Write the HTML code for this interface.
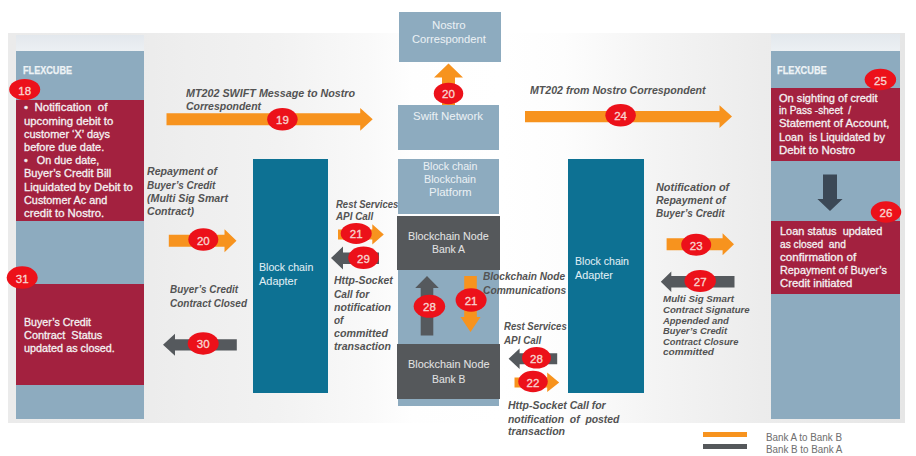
<!DOCTYPE html><html><head><meta charset="utf-8"><style>
body{margin:0;width:916px;height:456px;overflow:hidden;background:#fff;position:relative;font-family:"Liberation Sans",sans-serif;}
.r{position:absolute}
.t{position:absolute;white-space:pre;transform-origin:0 0;line-height:1;}
</style></head><body>
<div class="r" style="left:8px;top:33px;width:897px;height:390px;background:linear-gradient(to right,#ebebeb 0%,#eaeaea 12%,#eeeeee 20%,#f2f2f2 30%,#f9f9f9 40%,#fefefe 45%,#ffffff 55%,#fdfdfd 62%,#f4f4f4 72%,#ececec 84%,#e6e6e6 100%);"></div>
<div class="r" style="left:16px;top:35px;width:128px;height:16px;background:linear-gradient(#e3e8ed,#ecf0f3)"></div>
<div class="r" style="left:771px;top:34px;width:129px;height:17px;background:linear-gradient(#e3e8ed,#ecf0f3)"></div>
<div class="r" style="left:16px;top:51px;width:128px;height:368px;background:#8dabbf"></div>
<div class="r" style="left:16px;top:100px;width:128px;height:121px;background:#a3213f"></div>
<div class="r" style="left:16px;top:284px;width:128px;height:101px;background:#a3213f"></div>
<div class="r" style="left:771px;top:51px;width:129px;height:368px;background:#8dabbf"></div>
<div class="r" style="left:771px;top:88px;width:129px;height:73px;background:#a3213f"></div>
<div class="r" style="left:771px;top:220.5px;width:129px;height:73.5px;background:#a3213f"></div>
<div class="r" style="left:253px;top:159px;width:75px;height:234px;background:#0d7193"></div>
<div class="r" style="left:568px;top:159px;width:76px;height:234px;background:#0d7193"></div>
<div class="r" style="left:399px;top:12px;width:102px;height:50px;background:#8dabbf"></div>
<div class="r" style="left:398px;top:105px;width:101px;height:45px;background:#8dabbf"></div>
<div class="r" style="left:398px;top:159px;width:101px;height:55px;background:#8dabbf"></div>
<div class="r" style="left:397px;top:216px;width:103px;height:54px;background:#55585b"></div>
<div class="r" style="left:398px;top:270px;width:101px;height:74px;background:#8dabbf"></div>
<div class="r" style="left:397px;top:344px;width:103px;height:55px;background:#55585b"></div>
<div class="r" style="left:398px;top:399px;width:101px;height:7px;background:#8dabbf"></div>
<div class="r" style="left:703px;top:432px;width:44px;height:5px;background:#f7931e"></div>
<div class="r" style="left:703px;top:444px;width:44px;height:5px;background:#55585b"></div>
<svg class="r" style="left:0;top:0" width="916" height="456" viewBox="0 0 916 456"><polygon fill="#f7931e" points="166.5,113.3 360.2,113.3 360.2,107.9 372.7,119.3 360.2,130.7 360.2,125.3 166.5,125.3"/><polygon fill="#f7931e" points="525.0,110.9 719.5,110.9 719.5,105.2 732.0,116.6 719.5,128.0 719.5,122.2 525.0,122.2"/><polygon fill="#f7931e" points="168.8,234.8 224.5,234.8 224.5,229.3 236.5,240.8 224.5,252.3 224.5,246.8 168.8,246.8"/><polygon fill="#55595d" points="236.8,339.2 175.0,339.2 175.0,333.8 163.0,344.8 175.0,355.8 175.0,350.4 236.8,350.4"/><polygon fill="#f7931e" points="338.0,229.4 372.3,229.4 372.3,224.2 383.8,234.4 372.3,244.6 372.3,239.4 338.0,239.4"/><polygon fill="#55595d" points="379.0,252.4 343.0,252.4 343.0,246.6 331.0,258.1 343.0,269.6 343.0,263.9 379.0,263.9"/><polygon fill="#f7931e" points="666.6,238.2 722.6,238.2 722.6,233.2 734.0,244.2 722.6,255.2 722.6,250.2 666.6,250.2"/><polygon fill="#55595d" points="734.5,276.1 671.3,276.1 671.3,271.6 660.8,281.8 671.3,292.1 671.3,287.6 734.5,287.6"/><polygon fill="#55595d" points="557.2,353.3 519.6,353.3 519.6,348.6 508.6,358.8 519.6,369.0 519.6,364.3 557.2,364.3"/><polygon fill="#f7931e" points="514.5,377.4 547.2,377.4 547.2,372.6 559.2,382.4 547.2,392.1 547.2,387.4 514.5,387.4"/><polygon fill="#f7931e" points="442.0,105.0 442.0,77.4 434.0,77.4 448.5,63.4 463.0,77.4 455.0,77.4 455.0,105.0"/><polygon fill="#55595d" points="420.7,335.5 420.7,288.0 415.2,288.0 427.0,276.0 438.8,288.0 433.3,288.0 433.3,335.5"/><polygon fill="#f7931e" points="464.2,276.0 464.2,317.0 460.5,317.0 470.5,332.0 480.5,317.0 476.8,317.0 476.8,276.0"/><polygon fill="#3b4856" points="823.0,174.4 823.0,199.0 817.4,199.0 830.0,211.0 842.6,199.0 837.0,199.0 837.0,174.4"/><ellipse cx="24.7" cy="89.5" rx="15.5" ry="10.5" fill="#ec111a"/><ellipse cx="282.4" cy="119.3" rx="15.25" ry="11.25" fill="#ec111a"/><ellipse cx="448.5" cy="93.4" rx="14.75" ry="10.75" fill="#ec111a"/><ellipse cx="620.6" cy="115.2" rx="15.25" ry="11.25" fill="#ec111a"/><ellipse cx="880.4" cy="79.5" rx="15.75" ry="10.75" fill="#ec111a"/><ellipse cx="886" cy="212" rx="15.25" ry="10.75" fill="#ec111a"/><ellipse cx="203.3" cy="239.5" rx="15.0" ry="11.25" fill="#ec111a"/><ellipse cx="22.2" cy="277.6" rx="15.5" ry="11.25" fill="#ec111a"/><ellipse cx="203.2" cy="343.4" rx="15.5" ry="11.25" fill="#ec111a"/><ellipse cx="356.2" cy="233.4" rx="15.5" ry="10.5" fill="#ec111a"/><ellipse cx="363.5" cy="257.8" rx="15.25" ry="11.25" fill="#ec111a"/><ellipse cx="429.4" cy="306.3" rx="15.75" ry="11.5" fill="#ec111a"/><ellipse cx="471.1" cy="300" rx="15.5" ry="11.75" fill="#ec111a"/><ellipse cx="696.2" cy="244.7" rx="15.0" ry="11.0" fill="#ec111a"/><ellipse cx="700.2" cy="281" rx="15.75" ry="11.0" fill="#ec111a"/><ellipse cx="536.5" cy="357.8" rx="14.5" ry="10.75" fill="#ec111a"/><ellipse cx="533" cy="381.5" rx="14.75" ry="10.75" fill="#ec111a"/></svg>
<div class="t" style="left:9.7px;width:30px;text-align:center;top:85.57px;font-size:11.5px;color:#f8d4d0;-webkit-text-stroke:0.35px currentColor">18</div>
<div class="t" style="left:267.4px;width:30px;text-align:center;top:115.37px;font-size:11.5px;color:#f8d4d0;-webkit-text-stroke:0.35px currentColor">19</div>
<div class="t" style="left:433.5px;width:30px;text-align:center;top:89.47px;font-size:11.5px;color:#f8d4d0;-webkit-text-stroke:0.35px currentColor">20</div>
<div class="t" style="left:605.6px;width:30px;text-align:center;top:111.27px;font-size:11.5px;color:#f8d4d0;-webkit-text-stroke:0.35px currentColor">24</div>
<div class="t" style="left:865.4px;width:30px;text-align:center;top:75.57px;font-size:11.5px;color:#f8d4d0;-webkit-text-stroke:0.35px currentColor">25</div>
<div class="t" style="left:871px;width:30px;text-align:center;top:208.07px;font-size:11.5px;color:#f8d4d0;-webkit-text-stroke:0.35px currentColor">26</div>
<div class="t" style="left:188.3px;width:30px;text-align:center;top:235.57px;font-size:11.5px;color:#f8d4d0;-webkit-text-stroke:0.35px currentColor">20</div>
<div class="t" style="left:7.199999999999999px;width:30px;text-align:center;top:273.67px;font-size:11.5px;color:#f8d4d0;-webkit-text-stroke:0.35px currentColor">31</div>
<div class="t" style="left:188.2px;width:30px;text-align:center;top:339.47px;font-size:11.5px;color:#f8d4d0;-webkit-text-stroke:0.35px currentColor">30</div>
<div class="t" style="left:341.2px;width:30px;text-align:center;top:229.47px;font-size:11.5px;color:#f8d4d0;-webkit-text-stroke:0.35px currentColor">21</div>
<div class="t" style="left:348.5px;width:30px;text-align:center;top:253.87px;font-size:11.5px;color:#f8d4d0;-webkit-text-stroke:0.35px currentColor">29</div>
<div class="t" style="left:414.4px;width:30px;text-align:center;top:302.37px;font-size:11.5px;color:#f8d4d0;-webkit-text-stroke:0.35px currentColor">28</div>
<div class="t" style="left:456.1px;width:30px;text-align:center;top:296.07px;font-size:11.5px;color:#f8d4d0;-webkit-text-stroke:0.35px currentColor">21</div>
<div class="t" style="left:681.2px;width:30px;text-align:center;top:240.77px;font-size:11.5px;color:#f8d4d0;-webkit-text-stroke:0.35px currentColor">23</div>
<div class="t" style="left:685.2px;width:30px;text-align:center;top:277.07px;font-size:11.5px;color:#f8d4d0;-webkit-text-stroke:0.35px currentColor">27</div>
<div class="t" style="left:521.5px;width:30px;text-align:center;top:353.87px;font-size:11.5px;color:#f8d4d0;-webkit-text-stroke:0.35px currentColor">28</div>
<div class="t" style="left:518px;width:30px;text-align:center;top:377.57px;font-size:11.5px;color:#f8d4d0;-webkit-text-stroke:0.35px currentColor">22</div>
<div class="t" style="left:22.6px;top:65.31px;font-size:10.5px;font-weight:bold;-webkit-text-stroke:0.25px currentColor;color:#eef3f6;transform:scaleX(0.868)">FLEXCUBE</div>
<div class="t" style="left:777.0px;top:64.61px;font-size:10.5px;font-weight:bold;-webkit-text-stroke:0.25px currentColor;color:#eef3f6;transform:scaleX(0.878)">FLEXCUBE</div>
<div class="t" style="left:23.7px;top:102.39px;font-size:11px;-webkit-text-stroke:0.3px currentColor;color:#f4f1f2;transform:scaleX(1.046)">•  Notification  of</div>
<div class="t" style="left:23.7px;top:115.59px;font-size:11px;-webkit-text-stroke:0.3px currentColor;color:#f4f1f2;transform:scaleX(1.028)">upcoming debit to</div>
<div class="t" style="left:23.7px;top:128.79px;font-size:11px;-webkit-text-stroke:0.3px currentColor;color:#f4f1f2;transform:scaleX(0.996)">customer ‘X’ days</div>
<div class="t" style="left:23.7px;top:141.99px;font-size:11px;-webkit-text-stroke:0.3px currentColor;color:#f4f1f2;transform:scaleX(1.002)">before due date.</div>
<div class="t" style="left:23.7px;top:155.19px;font-size:11px;-webkit-text-stroke:0.3px currentColor;color:#f4f1f2;transform:scaleX(0.983)">•   On due date,</div>
<div class="t" style="left:23.7px;top:168.39px;font-size:11px;-webkit-text-stroke:0.3px currentColor;color:#f4f1f2;transform:scaleX(1.003)">Buyer’s Credit Bill</div>
<div class="t" style="left:23.7px;top:181.59px;font-size:11px;-webkit-text-stroke:0.3px currentColor;color:#f4f1f2;transform:scaleX(1.023)">Liquidated by Debit to</div>
<div class="t" style="left:23.7px;top:194.79px;font-size:11px;-webkit-text-stroke:0.3px currentColor;color:#f4f1f2;transform:scaleX(0.987)">Customer Ac and</div>
<div class="t" style="left:23.7px;top:207.99px;font-size:11px;-webkit-text-stroke:0.3px currentColor;color:#f4f1f2;transform:scaleX(1.034)">credit to Nostro.</div>
<div class="t" style="left:23.5px;top:316.79px;font-size:11px;-webkit-text-stroke:0.3px currentColor;color:#f4f1f2;transform:scaleX(0.968)">Buyer’s Credit</div>
<div class="t" style="left:23.5px;top:329.89px;font-size:11px;-webkit-text-stroke:0.3px currentColor;color:#f4f1f2;transform:scaleX(0.993)">Contract  Status</div>
<div class="t" style="left:23.5px;top:342.99px;font-size:11px;-webkit-text-stroke:0.3px currentColor;color:#f4f1f2;transform:scaleX(0.984)">updated as closed.</div>
<div class="t" style="left:778.8px;top:92.59px;font-size:11px;-webkit-text-stroke:0.3px currentColor;color:#f4f1f2;transform:scaleX(1.007)">On sighting of credit</div>
<div class="t" style="left:778.8px;top:105.39px;font-size:11px;-webkit-text-stroke:0.3px currentColor;color:#f4f1f2;transform:scaleX(0.915)">in Pass -sheet  /</div>
<div class="t" style="left:778.8px;top:118.49px;font-size:11px;-webkit-text-stroke:0.3px currentColor;color:#f4f1f2;transform:scaleX(1.026)">Statement of Account,</div>
<div class="t" style="left:778.8px;top:131.69px;font-size:11px;-webkit-text-stroke:0.3px currentColor;color:#f4f1f2;transform:scaleX(0.990)">Loan  is Liquidated by</div>
<div class="t" style="left:778.8px;top:144.79px;font-size:11px;-webkit-text-stroke:0.3px currentColor;color:#f4f1f2;transform:scaleX(1.039)">Debit to Nostro</div>
<div class="t" style="left:779.7px;top:225.79px;font-size:11px;-webkit-text-stroke:0.3px currentColor;color:#f4f1f2;transform:scaleX(0.995)">Loan status  updated</div>
<div class="t" style="left:779.7px;top:238.79px;font-size:11px;-webkit-text-stroke:0.3px currentColor;color:#f4f1f2;transform:scaleX(0.928)">as closed  and</div>
<div class="t" style="left:779.7px;top:251.99px;font-size:11px;-webkit-text-stroke:0.3px currentColor;color:#f4f1f2;transform:scaleX(1.055)">confirmation of</div>
<div class="t" style="left:779.7px;top:265.19px;font-size:11px;-webkit-text-stroke:0.3px currentColor;color:#f4f1f2;transform:scaleX(0.985)">Repayment of Buyer’s</div>
<div class="t" style="left:779.7px;top:278.39px;font-size:11px;-webkit-text-stroke:0.3px currentColor;color:#f4f1f2;transform:scaleX(1.028)">Credit initiated</div>
<div class="t" style="left:259.0px;top:262.37px;font-size:11.5px;-webkit-text-stroke:0.05px currentColor;color:#e0eff5;transform:scaleX(0.923)">Block chain</div>
<div class="t" style="left:259.0px;top:276.37px;font-size:11.5px;-webkit-text-stroke:0.05px currentColor;color:#e0eff5;transform:scaleX(0.951)">Adapter</div>
<div class="t" style="left:575.4px;top:256.17px;font-size:11.5px;-webkit-text-stroke:0.05px currentColor;color:#e0eff5;transform:scaleX(0.918)">Block chain</div>
<div class="t" style="left:575.4px;top:269.67px;font-size:11.5px;-webkit-text-stroke:0.05px currentColor;color:#e0eff5;transform:scaleX(0.938)">Adapter</div>
<div class="t" style="left:431.8px;top:20.19px;font-size:11px;-webkit-text-stroke:0.05px currentColor;color:#eaf0f4;transform:scaleX(1.040)">Nostro</div>
<div class="t" style="left:412.0px;top:33.79px;font-size:11px;-webkit-text-stroke:0.05px currentColor;color:#eaf0f4;transform:scaleX(1.014)">Correspondent</div>
<div class="t" style="left:413.0px;top:111.19px;font-size:11px;-webkit-text-stroke:0.05px currentColor;color:#eaf0f4;transform:scaleX(1.041)">Swift Network</div>
<div class="t" style="left:422.6px;top:161.19px;font-size:11px;-webkit-text-stroke:0.05px currentColor;color:#eaf0f4;transform:scaleX(0.967)">Block chain</div>
<div class="t" style="left:424.0px;top:174.19px;font-size:11px;-webkit-text-stroke:0.05px currentColor;color:#eaf0f4;transform:scaleX(0.977)">Blockchain</div>
<div class="t" style="left:428.7px;top:187.19px;font-size:11px;-webkit-text-stroke:0.05px currentColor;color:#eaf0f4;transform:scaleX(1.040)">Platform</div>
<div class="t" style="left:407.6px;top:231.19px;font-size:11px;-webkit-text-stroke:0.05px currentColor;color:#e3e3e3;transform:scaleX(0.979)">Blockchain Node</div>
<div class="t" style="left:431.8px;top:243.79px;font-size:11px;-webkit-text-stroke:0.05px currentColor;color:#e3e3e3;transform:scaleX(0.944)">Bank A</div>
<div class="t" style="left:407.5px;top:359.19px;font-size:11px;-webkit-text-stroke:0.05px currentColor;color:#e3e3e3;transform:scaleX(0.987)">Blockchain Node</div>
<div class="t" style="left:432.0px;top:373.99px;font-size:11px;-webkit-text-stroke:0.05px currentColor;color:#e3e3e3;transform:scaleX(0.942)">Bank B</div>
<div class="t" style="left:186.0px;top:88.47px;font-size:11.5px;font-weight:bold;font-style:italic;color:#535353;transform:scaleX(0.935)">MT202 SWIFT Message to Nostro</div>
<div class="t" style="left:186.0px;top:101.47px;font-size:11.5px;font-weight:bold;font-style:italic;color:#535353;transform:scaleX(0.910)">Correspondent</div>
<div class="t" style="left:530.4px;top:85.47px;font-size:11.5px;font-weight:bold;font-style:italic;color:#535353;transform:scaleX(0.922)">MT202 from Nostro Correspondent</div>
<div class="t" style="left:147.0px;top:166.47px;font-size:11.5px;font-weight:bold;font-style:italic;color:#535353;transform:scaleX(0.920)">Repayment of</div>
<div class="t" style="left:147.0px;top:180.27px;font-size:11.5px;font-weight:bold;font-style:italic;color:#535353;transform:scaleX(0.868)">Buyer’s Credit</div>
<div class="t" style="left:147.0px;top:192.87px;font-size:11.5px;font-weight:bold;font-style:italic;color:#535353;transform:scaleX(0.925)">(Multi Sig Smart</div>
<div class="t" style="left:147.0px;top:206.47px;font-size:11.5px;font-weight:bold;font-style:italic;color:#535353;transform:scaleX(0.919)">Contract)</div>
<div class="t" style="left:170.0px;top:284.07px;font-size:11.5px;font-weight:bold;font-style:italic;color:#535353;transform:scaleX(0.863)">Buyer’s Credit</div>
<div class="t" style="left:170.0px;top:298.17px;font-size:11.5px;font-weight:bold;font-style:italic;color:#535353;transform:scaleX(0.867)">Contract Closed</div>
<div class="t" style="left:335.5px;top:198.97px;font-size:11.5px;font-weight:bold;font-style:italic;color:#535353;transform:scaleX(0.826)">Rest Services</div>
<div class="t" style="left:335.5px;top:211.47px;font-size:11.5px;font-weight:bold;font-style:italic;color:#535353;transform:scaleX(0.856)">API Call</div>
<div class="t" style="left:333.6px;top:275.47px;font-size:11.5px;font-weight:bold;font-style:italic;color:#535353;transform:scaleX(0.911)">Http-Socket</div>
<div class="t" style="left:333.6px;top:289.17px;font-size:11.5px;font-weight:bold;font-style:italic;color:#535353;transform:scaleX(0.886)">Call for</div>
<div class="t" style="left:333.6px;top:301.97px;font-size:11.5px;font-weight:bold;font-style:italic;color:#535353;transform:scaleX(0.920)">notification</div>
<div class="t" style="left:333.6px;top:314.97px;font-size:11.5px;font-weight:bold;font-style:italic;color:#535353;transform:scaleX(0.866)">of</div>
<div class="t" style="left:333.6px;top:328.17px;font-size:11.5px;font-weight:bold;font-style:italic;color:#535353;transform:scaleX(0.927)">committed</div>
<div class="t" style="left:333.6px;top:341.47px;font-size:11.5px;font-weight:bold;font-style:italic;color:#535353;transform:scaleX(0.919)">transaction</div>
<div class="t" style="left:483.3px;top:271.27px;font-size:11.5px;font-weight:bold;font-style:italic;color:#535353;transform:scaleX(0.879)">Blockchain Node</div>
<div class="t" style="left:483.3px;top:284.77px;font-size:11.5px;font-weight:bold;font-style:italic;color:#535353;transform:scaleX(0.892)">Communications</div>
<div class="t" style="left:503.8px;top:320.97px;font-size:11.5px;font-weight:bold;font-style:italic;color:#535353;transform:scaleX(0.831)">Rest Services</div>
<div class="t" style="left:503.8px;top:334.67px;font-size:11.5px;font-weight:bold;font-style:italic;color:#535353;transform:scaleX(0.856)">API Call</div>
<div class="t" style="left:507.9px;top:400.47px;font-size:11.5px;font-weight:bold;font-style:italic;color:#535353;transform:scaleX(0.910)">Http-Socket Call for</div>
<div class="t" style="left:507.9px;top:414.07px;font-size:11.5px;font-weight:bold;font-style:italic;color:#535353;transform:scaleX(0.904)">notification  of  posted</div>
<div class="t" style="left:507.9px;top:426.17px;font-size:11.5px;font-weight:bold;font-style:italic;color:#535353;transform:scaleX(0.921)">transaction</div>
<div class="t" style="left:655.5px;top:181.97px;font-size:11.5px;font-weight:bold;font-style:italic;color:#535353;transform:scaleX(0.947)">Notification of</div>
<div class="t" style="left:655.5px;top:195.17px;font-size:11.5px;font-weight:bold;font-style:italic;color:#535353;transform:scaleX(0.914)">Repayment of</div>
<div class="t" style="left:655.5px;top:208.27px;font-size:11.5px;font-weight:bold;font-style:italic;color:#535353;transform:scaleX(0.869)">Buyer’s Credit</div>
<div class="t" style="left:663.0px;top:294.06px;font-size:9.5px;font-weight:bold;font-style:italic;color:#535353;transform:scaleX(1.027)">Multi Sig Smart</div>
<div class="t" style="left:663.0px;top:305.06px;font-size:9.5px;font-weight:bold;font-style:italic;color:#535353;transform:scaleX(1.014)">Contract Signature</div>
<div class="t" style="left:663.0px;top:315.66px;font-size:9.5px;font-weight:bold;font-style:italic;color:#535353;transform:scaleX(0.996)">Appended and</div>
<div class="t" style="left:663.0px;top:326.16px;font-size:9.5px;font-weight:bold;font-style:italic;color:#535353;transform:scaleX(0.983)">Buyer’s Credit</div>
<div class="t" style="left:663.0px;top:336.66px;font-size:9.5px;font-weight:bold;font-style:italic;color:#535353;transform:scaleX(0.978)">Contract Closure</div>
<div class="t" style="left:663.0px;top:347.16px;font-size:9.5px;font-weight:bold;font-style:italic;color:#535353;transform:scaleX(1.061)">committed</div>
<div class="t" style="left:765.7px;top:433.04px;font-size:10px;-webkit-text-stroke:0.05px currentColor;color:#707070;transform:scaleX(0.983)">Bank A to Bank B</div>
<div class="t" style="left:765.7px;top:444.74px;font-size:10px;-webkit-text-stroke:0.05px currentColor;color:#707070;transform:scaleX(0.980)">Bank B to Bank A</div>
</body></html>
